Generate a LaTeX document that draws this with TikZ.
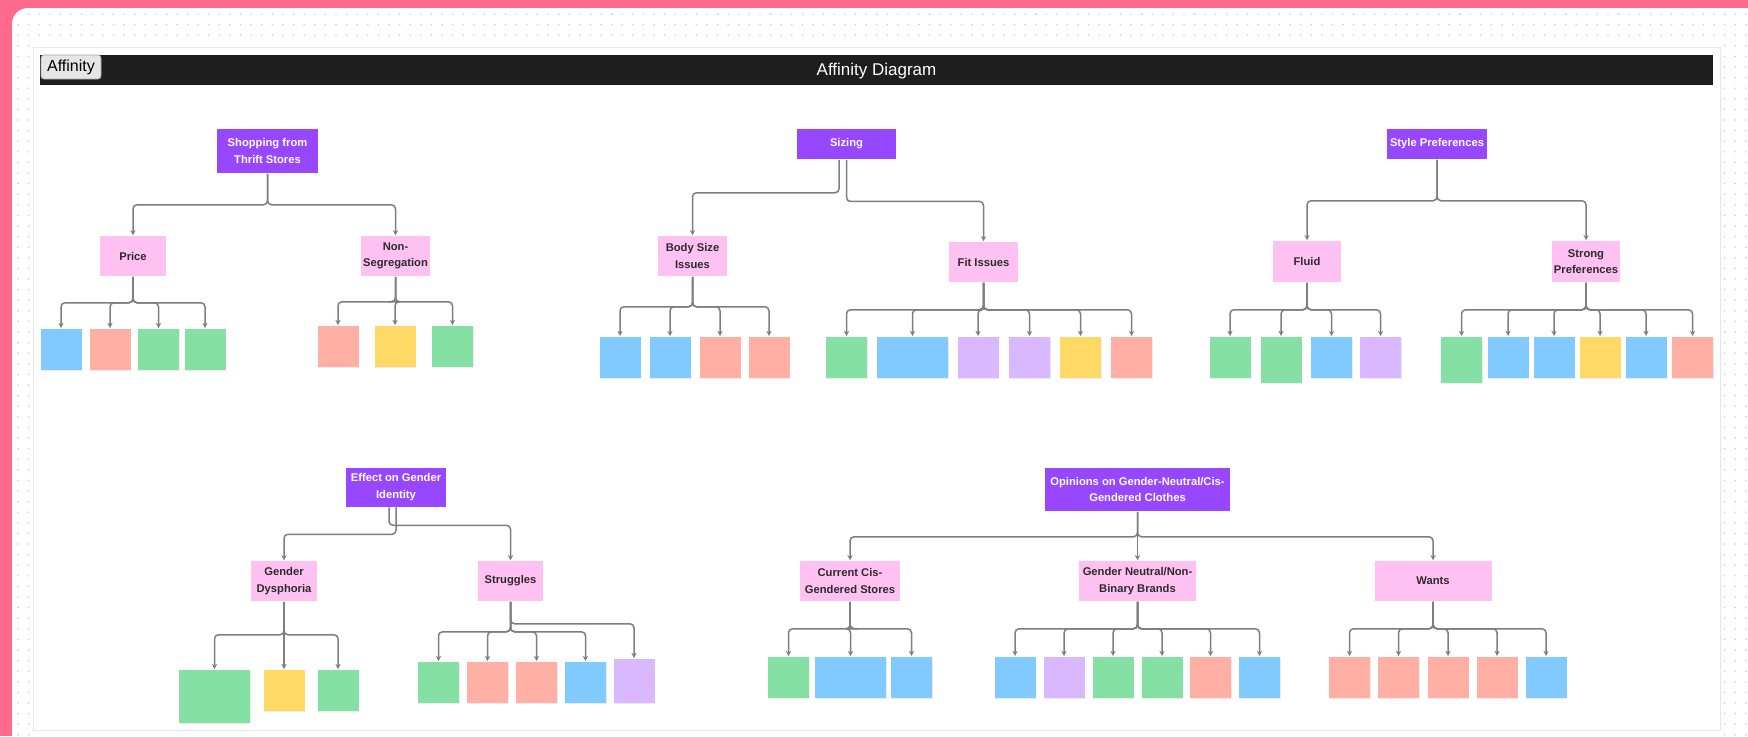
\documentclass[tikz,border=0pt]{standalone}
\usepackage{fontspec}
\setmainfont{Liberation Sans}
\usetikzlibrary{arrows.meta,shadows}

\definecolor{bgpink}{HTML}{FF6B8F}
\definecolor{dotgray}{HTML}{CFCFCF}
\definecolor{framegray}{HTML}{E6E6E6}
\definecolor{barblack}{HTML}{1E1E1E}
\definecolor{tabgray}{HTML}{E6E6E6}
\definecolor{topicpurple}{HTML}{9747FF}
\definecolor{grouppink}{HTML}{FFC1F1}
\definecolor{textdark}{HTML}{2B2B2B}
\definecolor{linkgray}{HTML}{7E7E7E}
\definecolor{stblue}{HTML}{80CAFF}
\definecolor{stsalmon}{HTML}{FFAFA3}
\definecolor{stgreen}{HTML}{85E0A3}
\definecolor{styellow}{HTML}{FFD966}
\definecolor{stviolet}{HTML}{D9B8FF}

\tikzset{every picture/.style={line width=0.75pt}}
\tikzset{
  boxfont/.style={font=\bfseries\fontsize{5.6}{8.3}\selectfont},
  topic/.style={boxfont, fill=topicpurple, text=white, align=center, inner sep=0pt},
  group/.style={boxfont, fill=grouppink, text=textdark, align=center, inner sep=0pt},
  note/.style={anchor=north, inner sep=0pt, minimum width=20.5pt, minimum height=20.5pt,
    drop shadow={opacity=0.15, shadow xshift=0.3pt, shadow yshift=-0.5pt}},
  sq/.style={},
  wide/.style={minimum width=35.5pt},
  tall/.style={minimum height=23pt},
  big/.style={minimum width=35.5pt, minimum height=26.5pt},
  link/.style={draw=linkgray, line width=0.75pt, rounded corners=2pt,
    -{Stealth[length=2.6pt,width=2.6pt]}},
}

\begin{document}
\begin{tikzpicture}[x=0.5pt,y=0.5pt,yscale=-1]
\useasboundingbox (0,0) rectangle (1748,736);
% board
\fill[bgpink] (0,0) rectangle (1748,736);
\fill[white, rounded corners=8pt] (12,8) rectangle (1790,770);
\foreach \y in {14,24.6,35.2}
  \foreach \x in {18,28.6,...,1748}
    \fill[dotgray] (\x,\y) circle (0.45pt);
\foreach \y in {45.8,56.4,...,736}
  \foreach \x in {18,28.6,1724.6,1735.2,1745.8}
    \fill[dotgray] (\x,\y) circle (0.45pt);
\draw[fill=white, draw=framegray, line width=0.5pt] (33,47) rectangle (1720,730);

% header
\fill[barblack] (40,55) rectangle (1713,85);
\node[text=white, font=\fontsize{8.5}{10}\selectfont] (title) at (876.5,71) {Affinity Diagram};
\node[fill=tabgray, draw=gray!70, line width=0.4pt, rounded corners=1.5pt, minimum width=30pt,
  minimum height=12pt, inner sep=0pt, font=\fontsize{8}{10}\selectfont] (tab) at (71,67) {Affinity};

% topics
\node[topic, minimum width=50.5pt, minimum height=22pt] (shop) at (267.5,151) {Shopping from\\Thrift Stores};
\node[topic, minimum width=49.5pt, minimum height=15pt] (sizing) at (846.5,144) {Sizing};
\node[topic, minimum width=50pt, minimum height=15pt] (style) at (1437,144) {Style Preferences};
\node[topic, minimum width=50pt, minimum height=19.5pt] (effect) at (396,487) {Effect on Gender\\Identity};
\node[topic, minimum width=92.5pt, minimum height=21.5pt] (opinions) at (1137.5,489.5) {Opinions on Gender-Neutral/Cis-\\Gendered Clothes};

% groups
\node[group, minimum width=33pt, minimum height=20pt] (price) at (133,256) {Price};
\node[group, minimum width=34.5pt, minimum height=20pt] (nonseg) at (395.5,256) {Non-\\Segregation};
\node[group, minimum width=34.5pt, minimum height=20pt] (body) at (692.5,256) {Body Size\\Issues};
\node[group, minimum width=34.5pt, minimum height=20pt] (fit) at (983.5,262) {Fit Issues};
\node[group, minimum width=34.3pt, minimum height=20.5pt] (fluid) at (1307,261.5) {Fluid};
\node[group, minimum width=34pt, minimum height=20.5pt] (strong) at (1586,261.5) {Strong\\Preferences};
\node[group, minimum width=33pt, minimum height=20pt] (dysph) at (284,581) {Gender\\Dysphoria};
\node[group, minimum width=32.5pt, minimum height=20pt] (strug) at (510.5,581) {Struggles};
\node[group, minimum width=50pt, minimum height=20pt] (current) at (850,581) {Current Cis-\\Gendered Stores};
\node[group, minimum width=58.7pt, minimum height=20pt] (neutral) at (1137.5,581) {Gender Neutral/Non-\\Binary Brands};
\node[group, minimum width=58.5pt, minimum height=20pt] (wants) at (1433,581) {Wants};

% topic links
\foreach \g in {price,nonseg}
  \draw[link] (shop.south) -- ++(0,31) -| (\g.north);
\draw[link] ([xshift=-3.75pt]sizing.south) -- ++(0,33) -| (body.north);
\draw[link] (sizing.south) -- ++(0,41.7) -| (fit.north);
\foreach \g in {fluid,strong}
  \draw[link] (style.south) -- ++(0,41) -| (\g.north);
\draw[link] ([xshift=-3.5pt]effect.south) -- ++(0,18) -| (strug.north);
\draw[link] (effect.south) -- ++(0,27) -| (dysph.north);
\foreach \g in {current,neutral,wants}
  \draw[link] (opinions.south) -- ++(0,25) -| (\g.north);

% sticky notes
\foreach \n/\x/\c/\k in {pr1/61/stblue/sq, pr2/110/stsalmon/sq, pr3/158.5/stgreen/sq, pr4/205/stgreen/sq}{
  \node[note, fill=\c, \k] (\n) at (\x,328) {};
  \draw[link] (price.south) -- ++(0,26) -| (\n.north);
}
\foreach \n/\x/\c/\k in {ns1/338/stsalmon/sq, ns2/395/styellow/sq, ns3/452.5/stgreen/sq}{
  \node[note, fill=\c, \k] (\n) at (\x,325) {};
  \draw[link] (nonseg.south) -- ++(0,25) -| (\n.north);
}
\foreach \n/\x/\c/\k in {bs1/620/stblue/sq, bs2/670/stblue/sq, bs3/720/stsalmon/sq, bs4/769/stsalmon/sq}{
  \node[note, fill=\c, \k] (\n) at (\x,336) {};
  \draw[link] (body.south) -- ++(0,30) -| (\n.north);
}
\foreach \n/\x/\c/\k in {fi1/846.5/stgreen/sq, fi2/912.5/stblue/wide, fi3/978/stviolet/sq,
    fi4/1029.5/stviolet/sq, fi5/1080.5/styellow/sq, fi6/1131.5/stsalmon/sq}{
  \node[note, fill=\c, \k] (\n) at (\x,336) {};
  \draw[link] (fit.south) -- ++(0,27) -| (\n.north);
}
\foreach \n/\x/\c/\k in {fl1/1230/stgreen/sq, fl2/1281/stgreen/tall, fl3/1331.5/stblue/sq, fl4/1380.5/stviolet/sq}{
  \node[note, fill=\c, \k] (\n) at (\x,336) {};
  \draw[link] (fluid.south) -- ++(0,27) -| (\n.north);
}
\foreach \n/\x/\c/\k in {sp1/1461.5/stgreen/tall, sp2/1508/stblue/sq, sp3/1554/stblue/sq,
    sp4/1600/styellow/sq, sp5/1646/stblue/sq, sp6/1692.5/stsalmon/sq}{
  \node[note, fill=\c, \k] (\n) at (\x,336) {};
  \draw[link] (strong.south) -- ++(0,27) -| (\n.north);
}
\foreach \n/\x/\c/\k in {gd1/214.5/stgreen/big, gd2/284/styellow/sq, gd3/338/stgreen/sq}{
  \node[note, fill=\c, \k] (\n) at (\x,669) {};
  \draw[link] (dysph.south) -- ++(0,33) -| (\n.north);
}
\foreach \n/\x/\c/\k in {st1/438.5/stgreen/sq, st2/487.5/stsalmon/sq, st3/536.5/stsalmon/sq, st4/585.5/stblue/sq}{
  \node[note, fill=\c, \k] (\n) at (\x,661) {};
  \draw[link] (strug.south) -- ++(0,30) -| (\n.north);
}
\node[note, fill=stviolet, minimum height=22pt] (st5) at (634,658) {};
\draw[link] (strug.south) -- ++(0,22) -| (st5.north);
\foreach \n/\x/\c/\k in {cc1/788.5/stgreen/sq, cc2/850.5/stblue/wide, cc3/911.5/stblue/sq}{
  \node[note, fill=\c, \k] (\n) at (\x,656) {};
  \draw[link] (current.south) -- ++(0,27) -| (\n.north);
}
\foreach \n/\x/\c/\k in {gn1/1015/stblue/sq, gn2/1064/stviolet/sq, gn3/1113/stgreen/sq,
    gn4/1162/stgreen/sq, gn5/1210.5/stsalmon/sq, gn6/1259.5/stblue/sq}{
  \node[note, fill=\c, \k] (\n) at (\x,656) {};
  \draw[link] (neutral.south) -- ++(0,27) -| (\n.north);
}
\foreach \n/\x/\c/\k in {wa1/1349.5/stsalmon/sq, wa2/1398.5/stsalmon/sq, wa3/1448/stsalmon/sq,
    wa4/1497/stsalmon/sq, wa5/1546/stblue/sq}{
  \node[note, fill=\c, \k] (\n) at (\x,656) {};
  \draw[link] (wants.south) -- ++(0,27) -| (\n.north);
}
\end{tikzpicture}
\end{document}
